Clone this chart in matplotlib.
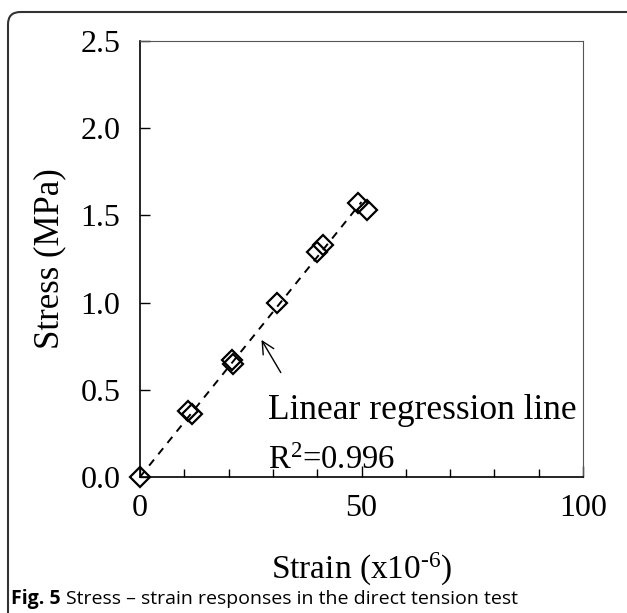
import numpy as np
import matplotlib
matplotlib.use("Agg")
import matplotlib.pyplot as plt
from matplotlib.patches import FancyBboxPatch
from matplotlib.ticker import MultipleLocator, FormatStrFormatter

plt.rcParams['font.family'] = 'Liberation Serif'
plt.rcParams['mathtext.fontset'] = 'custom'
plt.rcParams['mathtext.rm'] = 'Liberation Serif'
plt.rcParams['mathtext.it'] = 'Liberation Serif:italic'

# measured stress-strain pairs from the direct tension specimens
strain = [0, 10.8, 11.8, 20.8, 21.0, 31.0, 39.9, 41.3, 49.2, 51.2]
stress = [0, 0.38, 0.36, 0.67, 0.65, 1.00, 1.29, 1.33, 1.57, 1.53]
r_squared = 0.996

x = np.array(strain)
y = np.array(stress)
# regression forced through the origin
slope = np.sum(x * y) / np.sum(x * x)
fit_x = np.array([0, 50])

fig = plt.figure(figsize=(6.27, 6.13), dpi=100)
ax = fig.add_axes([140 / 627, 136 / 613, 443 / 627, 436 / 613])

ax.plot(fit_x, slope * fit_x, ls=(0, (4, 3.5)), color='black', lw=1.4, zorder=2)
ax.plot(strain, stress, ls='none', marker='D', ms=10, mfc='none', mec='black',
        mew=1.6, zorder=3, clip_on=False)

ax.set_xlim(0, 100)
ax.set_ylim(0, 2.5)
ax.xaxis.set_major_locator(MultipleLocator(50))
ax.xaxis.set_minor_locator(MultipleLocator(10))
ax.yaxis.set_major_locator(MultipleLocator(0.5))
ax.yaxis.set_major_formatter(FormatStrFormatter('%.1f'))
ax.tick_params(axis='both', which='both', direction='in', labelsize=23, width=1)
ax.tick_params(axis='x', which='major', length=8, pad=12)
ax.tick_params(axis='x', which='minor', length=6)
ax.tick_params(axis='y', which='major', length=7, pad=14)
for side in ['top', 'right']:
    ax.spines[side].set_color('#555555')
for side in ['left', 'bottom']:
    ax.spines[side].set_linewidth(1.2)

ax.set_xlabel('Strain (x10$^{\u2010 6}$)', fontsize=24, labelpad=20)
ax.set_ylabel('Stress (MPa)', fontsize=25, labelpad=10)

ax.text(28.9, 0.33, 'Linear regression line', fontsize=25.5, va='baseline')
ax.text(28.9, 0.045, 'R$^{2}$=' + f'{r_squared:.3f}', fontsize=23.5, va='baseline')
ax.annotate('', xy=(27.1, 0.80), xytext=(32.1, 0.585),
            arrowprops=dict(arrowstyle='->', color='black', lw=1, mutation_scale=22))

# rounded frame and caption
frame = FancyBboxPatch((8 / 627, -0.05), 1.2, 1.05 - 12 / 613,
                       boxstyle='round,pad=0,rounding_size=0.02',
                       transform=fig.transFigure, fill=False,
                       ec='#333333', lw=1.5)
fig.patches.append(frame)

cap1 = fig.text(11 / 627, 9 / 613, 'Fig. 5', fontsize=14, fontweight='bold',
                family='Open Sans', va='baseline')
fig.canvas.draw()
bb = cap1.get_window_extent(fig.canvas.get_renderer())
fig.text(bb.x1 / 627 + 5 / 627, 9 / 613,
         'Stress \u2013 strain responses in the direct tension test',
         fontsize=14, family='Open Sans', va='baseline')

fig.savefig('out.png', dpi=100)
